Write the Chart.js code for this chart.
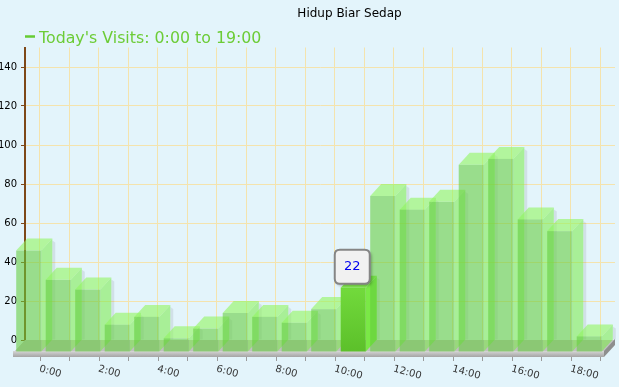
<!DOCTYPE html>
<html>
<head>
<meta charset="utf-8">
<script src="https://cdn.jsdelivr.net/npm/chart.js@4.4.1/dist/chart.umd.min.js"></script>
<style>
  html, body { margin: 0; padding: 0; background: #e3f4fb; }
  canvas { display: block; }
</style>
</head>
<body>
<canvas id="chart" width="619" height="387"></canvas>
<script>
const chartTitle = 'Hidup Biar Sedap';
const seriesLabel = "Today's Visits: 0:00 to 19:00";
const hours = ['0:00', '1:00', '2:00', '3:00', '4:00', '5:00', '6:00', '7:00', '8:00', '9:00',
  '10:00', '11:00', '12:00', '13:00', '14:00', '15:00', '16:00', '17:00', '18:00', '19:00'];
const visits = [52, 37, 32, 14, 18, 7, 12, 20, 18, 15, 22, 33, 80, 73, 77, 96, 99, 68, 62, 8];
const yTicks = [0, 20, 40, 60, 80, 100, 120, 140];
const yMax = 150;
const xLabelStep = 2;
const highlightIndex = 11;
const highlightText = '22';

const FONT = "'DejaVu Sans', Verdana, sans-serif";
const gridColor = '#f4e3ad';
const axisBrown = '#7e4818';
const depthX = 11;
const depthY = 12;

function roundRect(ctx, x, y, w, h, r) {
  ctx.beginPath();
  ctx.moveTo(x + r, y);
  ctx.lineTo(x + w - r, y);
  ctx.quadraticCurveTo(x + w, y, x + w, y + r);
  ctx.lineTo(x + w, y + h - r);
  ctx.quadraticCurveTo(x + w, y + h, x + w - r, y + h);
  ctx.lineTo(x + r, y + h);
  ctx.quadraticCurveTo(x, y + h, x, y + h - r);
  ctx.lineTo(x, y + r);
  ctx.quadraticCurveTo(x, y, x + r, y);
  ctx.closePath();
}

// floor slab under the bars
const floorPlugin = {
  id: 'floor',
  beforeDatasetsDraw(chart) {
    const { ctx, chartArea } = chart;
    const l = chartArea.left, r = chartArea.right, b = chartArea.bottom;
    ctx.save();
    ctx.fillStyle = '#c0c0c0';
    ctx.beginPath();
    ctx.moveTo(l, b);
    ctx.lineTo(r, b);
    ctx.lineTo(r - depthX, b + depthY);
    ctx.lineTo(l - depthX, b + depthY);
    ctx.closePath();
    ctx.fill();

    const g = ctx.createLinearGradient(0, b + depthY - 1, 0, b + depthY + 5);
    g.addColorStop(0, '#d6d6d6');
    g.addColorStop(1, '#a4a4a4');
    ctx.fillStyle = g;
    ctx.fillRect(l - depthX - 1, b + depthY - 1, r - l + 1, 6);

    ctx.fillStyle = '#8e8e8e';
    ctx.beginPath();
    ctx.moveTo(r - depthX, b + depthY - 1);
    ctx.lineTo(r, b - 1);
    ctx.lineTo(r, b + 5);
    ctx.lineTo(r - depthX, b + depthY + 5);
    ctx.closePath();
    ctx.fill();

    // x ticks and rotated labels
    const meta = chart.getDatasetMeta(0);
    ctx.strokeStyle = '#9a9a9a';
    ctx.lineWidth = 1;
    ctx.font = '10px ' + FONT;
    ctx.fillStyle = '#333';
    ctx.textAlign = 'left';
    ctx.textBaseline = 'top';
    meta.data.forEach((bar, i) => {
      const x = Math.round(bar.x) + 0.5;
      ctx.beginPath();
      ctx.moveTo(x, b + depthY + 5);
      ctx.lineTo(x, b + depthY + 9);
      ctx.stroke();
      if (i % xLabelStep === 0) {
        ctx.save();
        ctx.translate(bar.x + 1, b + 24);
        ctx.rotate(15 * Math.PI / 180);
        ctx.fillText(hours[i], 0, 0);
        ctx.restore();
      }
    });
    ctx.restore();
  }
};

// 3D bar faces
const bars3d = {
  id: 'bars3d',
  afterDatasetsDraw(chart) {
    const { ctx } = chart;
    const meta = chart.getDatasetMeta(0);
    ctx.save();
    meta.data.forEach((bar, i) => {
      const { x, y, base, width } = bar.getProps(['x', 'y', 'base', 'width'], true);
      const hw = width / 2;
      const fl = x - hw - depthX, fr = x + hw - depthX;
      const ft = y + depthY, fb = base + depthY;
      const hot = i === highlightIndex;

      // soft shadow behind the side
      ctx.save();
      ctx.fillStyle = 'rgba(0,0,0,0.08)';
      ctx.beginPath();
      ctx.moveTo(x + hw, y + 2);
      ctx.lineTo(x + hw + 3, y + 4);
      ctx.lineTo(x + hw + 3, base);
      ctx.lineTo(x + hw, base);
      ctx.closePath();
      ctx.fill();
      ctx.restore();

      // side
      ctx.fillStyle = hot ? '#7ae846' : 'rgba(120,235,70,0.55)';
      ctx.beginPath();
      ctx.moveTo(fr, ft);
      ctx.lineTo(x + hw, y);
      ctx.lineTo(x + hw, base);
      ctx.lineTo(fr, fb);
      ctx.closePath();
      ctx.fill();

      // top
      ctx.fillStyle = hot ? '#84ec52' : 'rgba(145,245,95,0.6)';
      ctx.beginPath();
      ctx.moveTo(fl, ft);
      ctx.lineTo(fr, ft);
      ctx.lineTo(x + hw, y);
      ctx.lineTo(x - hw, y);
      ctx.closePath();
      ctx.fill();

      // front
      if (hot) {
        const g = ctx.createLinearGradient(0, ft, 0, fb);
        g.addColorStop(0, '#72da3c');
        g.addColorStop(1, '#5cc02a');
        ctx.fillStyle = g;
      } else {
        ctx.fillStyle = 'rgba(100,205,60,0.58)';
      }
      ctx.fillRect(fl, ft, width, fb - ft);
    });
    ctx.restore();
  }
};

// title, legend and the hover box
const overlay = {
  id: 'overlay',
  afterDraw(chart) {
    const { ctx } = chart;
    ctx.save();
    ctx.fillStyle = '#000';
    ctx.font = '12px ' + FONT;
    ctx.textAlign = 'center';
    ctx.textBaseline = 'alphabetic';
    ctx.fillText(chartTitle, 349.5, 17);

    ctx.strokeStyle = '#66cc33';
    ctx.lineWidth = 2.5;
    ctx.beginPath();
    ctx.moveTo(25, 36.5);
    ctx.lineTo(35, 36.5);
    ctx.stroke();
    ctx.fillStyle = '#6ccc36';
    ctx.font = '15.8px ' + FONT;
    ctx.textAlign = 'left';
    ctx.fillText(chart.data.datasets[0].label, 39, 43);

    const bar = chart.getDatasetMeta(0).data[highlightIndex];
    const cx = bar.x - depthX;
    const bw = 35, bh = 34;
    const bx = cx - bw / 2 - 1, by = bar.y + depthY - 4 - bh;
    ctx.shadowColor = 'rgba(0,0,0,0.3)';
    ctx.shadowBlur = 3;
    ctx.shadowOffsetX = 2;
    ctx.shadowOffsetY = 2;
    roundRect(ctx, bx, by, bw, bh, 5);
    ctx.fillStyle = '#f1f1f1';
    ctx.fill();
    ctx.shadowColor = 'transparent';
    ctx.strokeStyle = '#858585';
    ctx.lineWidth = 2;
    ctx.stroke();
    ctx.fillStyle = '#0000ee';
    ctx.font = '13px ' + FONT;
    ctx.textAlign = 'center';
    ctx.textBaseline = 'middle';
    ctx.fillText(highlightText, bx + bw / 2, by + bh / 2);
    ctx.restore();
  }
};

new Chart(document.getElementById('chart'), {
  type: 'bar',
  data: {
    labels: hours,
    datasets: [{
      label: seriesLabel,
      data: visits,
      backgroundColor: 'rgba(0,0,0,0)',
      borderWidth: 0,
      categoryPercentage: 1,
      barPercentage: 0.85
    }]
  },
  options: {
    responsive: false,
    animation: false,
    events: [],
    layout: { padding: { top: 47.5, right: 4, bottom: 47, left: 0 } },
    scales: {
      x: {
        grid: { offset: false, color: gridColor, drawTicks: false },
        ticks: { display: false },
        border: { display: false },
        afterFit: s => { s.height = 0; }
      },
      y: {
        min: 0,
        max: yMax,
        afterBuildTicks: s => { s.ticks = yTicks.map(v => ({ value: v })); },
        ticks: { color: '#000', padding: 4, font: { size: 10, family: FONT } },
        grid: { color: gridColor, tickColor: axisBrown, tickLength: 4 },
        border: { color: axisBrown, width: 2 },
        afterFit: s => { s.width = 25; }
      }
    },
    plugins: {
      legend: { display: false },
      tooltip: { enabled: false },
      title: { display: false }
    }
  },
  plugins: [floorPlugin, bars3d, overlay]
});
</script>
</body>
</html>
